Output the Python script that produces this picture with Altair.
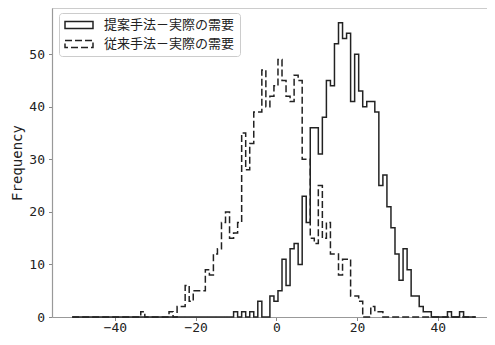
import altair as alt
import pandas as pd

# Histogram bins shared by both series: 100 bins of width 1 starting at -50.6
BIN_START = -50.6
BIN_WIDTH = 1.0

SERIES = ["提案手法－実際の需要", "従来手法－実際の需要"]

# counts per bin, bins n = -50 ... 49  (bin n spans [n-0.6, n+0.4])
proposed_counts = [
    0, 0, 0, 0, 0, 0, 0, 0, 0, 0,
    0, 0, 0, 0, 0, 0, 0, 0, 0, 0,
    0, 0, 0, 0, 0, 0, 0, 0, 0, 0,
    0, 0, 0, 0, 0, 0, 0, 0, 0, 0,
    1, 0, 1, 0, 1, 0, 3, 0, 0, 4,
    3, 5, 11, 6, 13, 14, 10, 23, 18, 36,
    36, 31, 38, 45, 44, 52, 56, 53, 54, 41,
    50, 43, 40, 41, 41, 39, 25, 27, 21, 17,
    12, 7, 13, 9, 4, 4, 2, 1, 1, 0,
    0, 0, 0, 1, 0, 0, 1, 0, 0, 0,
]

conventional_counts = [
    0, 0, 0, 0, 0, 0, 0, 0, 0, 0,
    0, 0, 0, 0, 0, 0, 0, 1, 0, 0,
    0, 0, 0, 0, 1, 0, 2, 2, 6, 3,
    5, 5, 5, 9, 8, 12, 13, 18, 20, 15,
    16, 18, 35, 28, 33, 39, 39, 47, 40, 42,
    44, 49, 45, 42, 41, 46, 45, 30, 30, 15,
    14, 25, 15, 18, 12, 12, 8, 11, 11, 4,
    4, 3, 0, 0, 2, 1, 1, 0, 0, 0,
    0, 0, 0, 0, 0, 0, 0, 0, 0, 0,
    0, 0, 0, 0, 0, 0, 0, 0, 0, 0,
]

x_ticks = [-40, -20, 0, 20, 40]
y_ticks = [0, 10, 20, 30, 40, 50]


def outline(counts, name):
    rows = [{"x": BIN_START, "y": 0, "order": 0, "series": name}]
    for i, c in enumerate(counts):
        rows.append({"x": BIN_START + i * BIN_WIDTH, "y": c, "order": i + 1, "series": name})
    rows.append({"x": BIN_START + len(counts) * BIN_WIDTH, "y": 0,
                 "order": len(counts) + 1, "series": name})
    return rows


df = pd.DataFrame(outline(proposed_counts, SERIES[0]) + outline(conventional_counts, SERIES[1]))

TICK_FONT = "DejaVu Sans Mono"
SPINE = "#999999"
W, H = 435, 309

hist = alt.Chart(df).mark_line(
    interpolate="step-after", strokeWidth=1.5, color="#222"
).encode(
    x=alt.X("x:Q",
            scale=alt.Scale(domain=[-55.6, 52.2], nice=False, zero=False),
            axis=alt.Axis(values=x_ticks, title=None, grid=False, domain=True,
                          domainColor=SPINE, domainWidth=1.2,
                          tickSize=3.5, tickColor="#888", labelPadding=1)),
    y=alt.Y("y:Q",
            scale=alt.Scale(domain=[0, 58.8], nice=False),
            axis=alt.Axis(values=y_ticks, title="Frequency", grid=False, domain=True,
                          domainColor=SPINE, domainWidth=1.2,
                          tickSize=3.5, tickColor="#888", labelPadding=4, titlePadding=4)),
    strokeDash=alt.StrokeDash(
        "series:N",
        scale=alt.Scale(domain=SERIES, range=[[1, 0], [7, 3]]),
        legend=alt.Legend(
            title=None, orient="none", legendX=7, legendY=5,
            symbolType="M-2.333,-0.583H2.333V0.583H-2.333Z", symbolSize=144,
            symbolOffset=8,
            symbolStrokeWidth=1.5, symbolStrokeColor="#222", symbolFillColor="white",
            labelFont="Noto Sans CJK JP", labelFontSize=13, labelColor="#222",
            labelOffset=18, rowPadding=5, padding=5,
            strokeColor="#cccccc", cornerRadius=3, fillColor="white",
        ),
    ),
    order="order:Q",
)

top_spine = alt.Chart(pd.DataFrame({"k": [0]})).mark_rule(
    color=SPINE, strokeWidth=1.2
).encode(x=alt.value(0), x2=alt.value(W), y=alt.value(0))

chart = alt.layer(hist, top_spine).properties(
    width=W, height=H,
    padding={"left": 44, "top": 0, "right": 0, "bottom": 20},
    autosize=alt.AutoSizeParams(type="none"),
).configure_view(
    stroke=None
).configure_axis(
    labelFont=TICK_FONT, labelFontSize=13, labelColor="#222",
    titleFont=TICK_FONT, titleFontSize=14, titleColor="#222", titleFontWeight="normal",
)

chart.save("out.html", embed_options={"renderer": "svg", "actions": False})
